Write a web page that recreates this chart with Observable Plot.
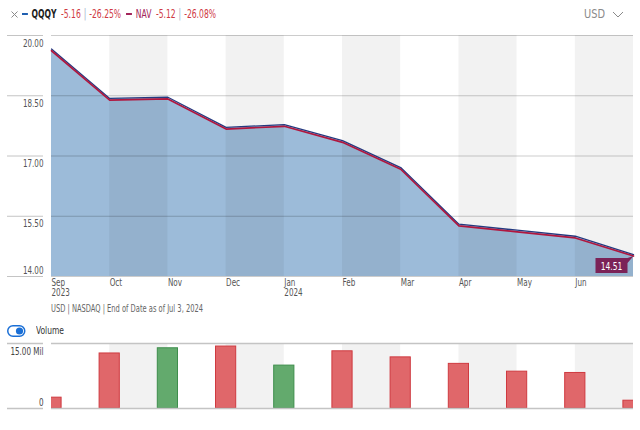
<!DOCTYPE html>
<html>
<head>
<meta charset="utf-8">
<script src="https://cdn.jsdelivr.net/npm/d3@7"></script>
<script src="https://cdn.jsdelivr.net/npm/@observablehq/plot@0.6"></script>
<style>
  html, body { margin: 0; padding: 0; background: #fff; }
  body { width: 640px; height: 430px; position: relative; overflow: hidden;
         font-family: "Liberation Sans Narrow", "DejaVu Sans Condensed", "Roboto", sans-serif; }
  .abs { position: absolute; }
  .squeeze { transform-origin: 0 50%; }
  #close { left: 10px; top: 7px; }
  #header { left: 22px; top: 7px; font-size: 11.5px; white-space: nowrap; display: flex; align-items: center; }
  #header .dash { display: inline-block; width: 8px; height: 2px; margin-right: 5px; }
  #header .sym { color: #222; font-weight: bold; margin-right: 6px; }
  #header .nav { color: #a3245a; margin-right: 6px; }
  #header .neg { color: #cf3a44; }
  #header .sep { color: #9fb0c8; margin: 0 4px; }
  #cur { right: 16px; top: 6px; font-size: 13px; color: #8a8a8a; display: flex; align-items: center; }
  #curtxt { transform-origin: 100% 50%; display: inline-block; }
  #main { left: 0; top: 30px; }
  #caption { left: 51px; top: 302px; font-size: 10.5px; color: #666; white-space: nowrap; }
  #volrow { left: 7px; top: 324px; display: flex; align-items: center; font-size: 11px; color: #333; }
  #voltxt { display: inline-block; margin-left: 10px; }
  #vol { left: 0; top: 340px; }
</style>
</head>
<body>
<svg id="close" class="abs" width="9" height="16"><path d="M1.5,4.5L7.5,10.5M7.5,4.5L1.5,10.5" stroke="#8a8a8a" stroke-width="1"/></svg>
<div id="header" class="abs squeeze"></div>
<div id="cur" class="abs"><span id="curtxt">USD</span><svg width="12" height="10" style="margin-left:7px"><polyline points="1,3 6,8 11,3" fill="none" stroke="#8a8a8a" stroke-width="1"/></svg></div>
<div id="main" class="abs"></div>
<div id="caption" class="abs squeeze">USD | NASDAQ | End of Date as of Jul 3, 2024</div>
<div id="volrow" class="abs">
  <svg width="19" height="12"><rect x="0.75" y="0.75" width="17" height="10.5" rx="5.25" fill="#fff" stroke="#1a6fd6" stroke-width="1.5"/><circle cx="12.5" cy="6" r="3.6" fill="#1a6fd6"/></svg>
  <span id="voltxt" class="squeeze">Volume</span>
</div>
<div id="vol" class="abs"></div>
<script>
// ---- data ----
const monthLabels = ["Sep\n2023", "Oct", "Nov", "Dec", "Jan\n2024", "Feb", "Mar", "Apr", "May", "Jun"];
const qqqyPrice = [19.64, 18.41, 18.44, 17.69, 17.76, 17.36, 16.69, 15.28, 15.13, 14.98, 14.52];
const navPrice  = [19.62, 18.39, 18.42, 17.67, 17.74, 17.34, 16.67, 15.26, 15.11, 14.96, 14.51];
const volumeMil = [2.5, 12.7, 13.9, 14.3, 9.9, 13.2, 11.8, 10.3, 8.5, 8.2, 1.8];
const volumeDir = ["down", "down", "up", "down", "up", "down", "down", "down", "down", "down", "down"];
const shadedMonths = [1, 3, 5, 7, 9];
const priceTicks = [14, 15.5, 17, 18.5, 20];
const volumeTicks = [0, 15];
const lastLabel = "14.51";
const headerItems = [
  {sym: "QQQY", color: "#1f5fb0", chg: "-5.16", pct: "-26.25%"},
  {sym: "NAV", color: "#a3245a", chg: "-5.12", pct: "-26.08%"}
];

// ---- header ----
const header = document.getElementById("header");
header.innerHTML = headerItems.map((h, k) =>
  `<span class="dash" style="background:${h.color}"></span>` +
  `<span class="${k === 0 ? "sym" : "nav"}">${h.sym}</span>` +
  `<span class="neg">${h.chg}</span><span class="sep">|</span><span class="neg"${k === 0 ? ' style="margin-right:7px"' : ""}>${h.pct}</span>`
).join("");

const font = '"Liberation Sans Narrow", "DejaVu Sans Condensed", "Roboto", sans-serif';
const rows = qqqyPrice.map((q, i) => ({i, q, n: navPrice[i]}));
const vrows = volumeMil.map((v, i) => ({i, v, dir: volumeDir[i]}));
const fmt = d3.format(".2f");

// ---- main chart ----
const main = Plot.plot({
  width: 640, height: 270,
  marginTop: 5, marginBottom: 24, marginLeft: 51, marginRight: 7,
  x: {domain: [0, 10], axis: null},
  y: {domain: [14, 20], axis: null},
  style: {fontFamily: font, fontSize: "10px", color: "#555", overflow: "visible", background: "transparent"},
  marks: [
    Plot.areaY(rows, {x: "i", y1: 14, y2: "q", fill: "#9cbbd9"}),
    Plot.rect(shadedMonths, {x1: d => d, x2: d => d + 1, fill: "#000", fillOpacity: 0.05}),
    Plot.ruleY(priceTicks, {stroke: "#000", strokeOpacity: 0.2}),
    Plot.ruleY(priceTicks, {stroke: "#c4c4c4", insetLeft: -44, insetRight: 590}),
    Plot.text(priceTicks.filter(t => t > 14), {y: d => d, text: d => fmt(d), frameAnchor: "left", textAnchor: "end", dx: -8, dy: 8, fill: "#555"}),
    Plot.text(priceTicks.filter(t => t === 14), {y: d => d, text: d => fmt(d), frameAnchor: "left", textAnchor: "end", dx: -8, dy: -6, fill: "#555"}),
    Plot.line(rows, {x: "i", y: "q", stroke: "#243a80", strokeWidth: 1.3, dy: -0.9}),
    Plot.line(rows, {x: "i", y: "n", stroke: "#b0173f", strokeWidth: 1.7}),
    Plot.text(monthLabels.map((m, i) => i), {x: d => d, text: d => monthLabels[d], frameAnchor: "bottom", textAnchor: "start", lineAnchor: "top", dy: 2, fill: "#555", lineHeight: 1.0}),
    Plot.text([rows[rows.length - 1]], {
      x: "i", y: "n", text: () => lastLabel,
      render: (I, scales, values, dims, ctx, next) => {
        const g = next(I, scales, values, dims, ctx);
        const i = I[0];
        const px = values.x[i], py = values.y[i];
        const R = px - 6, T = py + 2, W = 32, H = 15;
        const path = document.createElementNS("http://www.w3.org/2000/svg", "path");
        path.setAttribute("d", `M${R - W},${T}H${R}L${px},${py}L${R},${T + 5}V${T + H}H${R - W}Z`);
        path.setAttribute("fill", "#7b2257");
        g.insertBefore(path, g.firstChild);
        const t = g.querySelector("text");
        t.removeAttribute("transform");
        t.setAttribute("x", R - W / 2);
        t.setAttribute("y", T + H / 2);
        t.setAttribute("text-anchor", "middle");
        t.setAttribute("dominant-baseline", "central");
        t.setAttribute("fill", "#fff");
        t.setAttribute("font-size", "10.5");
        return g;
      }
    })
  ]
});
document.getElementById("main").append(main);

// ---- volume chart ----
const vol = Plot.plot({
  width: 640, height: 72,
  marginTop: 3, marginBottom: 4, marginLeft: 51, marginRight: 7,
  x: {domain: [0, 10], axis: null},
  y: {domain: [0, 15], axis: null},
  style: {fontFamily: font, fontSize: "10px", color: "#555", overflow: "visible", background: "transparent"},
  marks: [
    Plot.rect(shadedMonths, {x1: d => d, x2: d => d + 1, fill: "#000", fillOpacity: 0.05}),
    Plot.rectY(vrows, {
      x1: d => d.i - 0.5, x2: d => d.i + 0.5, y1: 0, y2: "v",
      insetLeft: 19, insetRight: 19, clip: true,
      fill: d => d.dir === "up" ? "#63aa6d" : "#e0676a",
      stroke: d => d.dir === "up" ? "#3e8e4c" : "#cf3a40", strokeWidth: 1
    }),
    Plot.ruleY(volumeTicks, {stroke: "#c4c4c4", strokeWidth: 1.5}),
    Plot.ruleY(volumeTicks, {stroke: "#c4c4c4", strokeWidth: 1.5, insetLeft: -44, insetRight: 590}),
    Plot.text([15], {y: d => d, text: d => fmt(d) + " Mil", frameAnchor: "left", textAnchor: "end", dx: -8, dy: 8, fill: "#444"}),
    Plot.text([0], {y: d => d, text: d => String(d), frameAnchor: "left", textAnchor: "end", dx: -8, dy: -6, fill: "#444"})
  ]
});
document.getElementById("vol").append(vol);

// ---- condense text to mimic the narrow typeface ----
function condenseSvg(svg, factor) {
  svg.querySelectorAll("text").forEach(t => {
    const spans = t.querySelectorAll("tspan");
    const els = spans.length ? Array.from(spans) : [t];
    els.forEach(e => {
      const L = e.getComputedTextLength();
      if (L > 0) {
        e.setAttribute("textLength", (L * factor).toFixed(2));
        e.setAttribute("lengthAdjust", "spacingAndGlyphs");
      }
    });
  });
}
condenseSvg(main, 0.8);
condenseSvg(vol, 0.8);

function fitWidth(el, target) {
  const w = el.getBoundingClientRect().width;
  if (w > 0) el.style.transform = `scaleX(${target / w})`;
}
fitWidth(document.getElementById("header"), 194);
fitWidth(document.getElementById("caption"), 152);
fitWidth(document.getElementById("voltxt"), 28);
fitWidth(document.getElementById("curtxt"), 21);
</script>
</body>
</html>
